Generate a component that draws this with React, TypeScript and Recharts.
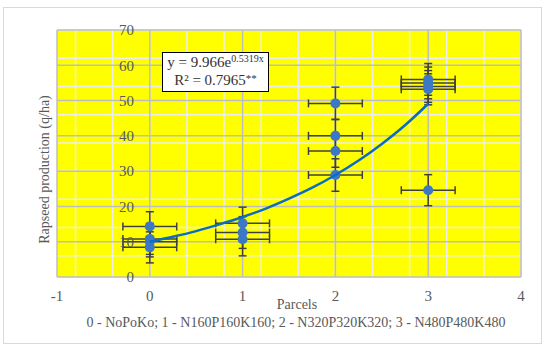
import React from 'react';
import { ScatterChart, Scatter, XAxis, YAxis, CartesianGrid, ErrorBar, Label } from 'recharts';

const xTicks = [-1, 0, 1, 2, 3, 4];
const yTicks = [0, 10, 20, 30, 40, 50, 60, 70];
const minorXValues = Array.from({ length: 26 }, (_, i) => Math.round((-1 + i * 0.2) * 10) / 10);
const minorYValues = Array.from({ length: 36 }, (_, i) => i * 2);

const parcels = [0, 0, 0, 0, 1, 1, 1, 2, 2, 2, 2, 3, 3, 3, 3, 3];
const yields = [14.3, 10.8, 10.0, 8.4, 15.2, 12.6, 10.7, 49.2, 40.0, 35.7, 28.9, 56.0, 55.0, 54.0, 53.2, 24.6];
const xErrors = [0.29, 0.29, 0.29, 0.29, 0.29, 0.29, 0.29, 0.29, 0.29, 0.29, 0.29, 0.29, 0.29, 0.29, 0.29, 0.29];
const yErrors = [4.2, 4.4, 4.3, 4.4, 4.6, 4.5, 4.7, 4.6, 4.7, 4.6, 4.6, 4.5, 4.5, 4.5, 4.4, 4.4];

const trendX = [0, 0.25, 0.5, 0.75, 1, 1.25, 1.5, 1.75, 2, 2.25, 2.5, 2.75, 3];
const trendY = [10.0, 11.4, 13.0, 14.9, 17.0, 19.4, 22.2, 25.3, 28.9, 33.0, 37.7, 43.0, 49.1];

const points = parcels.map((x, i) => ({ x, y: yields[i], ex: xErrors[i], ey: yErrors[i] }));
const trend = trendX.map((x, i) => ({ x, y: trendY[i] }));

const FONT = '"Liberation Serif", serif';
const TEXT = '#595959';

const NoShape = () => <g />;

export default function App() {
  return (
    <div style={{ position: 'absolute', left: 0, top: 0, width: 550, height: 352, background: '#fff' }}>
      <div
        style={{
          position: 'absolute',
          left: 3,
          top: 7,
          width: 539,
          height: 337,
          border: '1.5px solid #d9d9d9',
          boxSizing: 'border-box',
        }}
      />
      <div style={{ position: 'absolute', left: 0, top: 0 }}>
        <ScatterChart width={550} height={352} margin={{ top: 30, right: 29, bottom: 15, left: 27 }}>
          <CartesianGrid
            fill="#FFFF00"
            fillOpacity={1}
            stroke="#EDEDED"
            strokeWidth={1.5}
            horizontalValues={minorYValues}
            verticalValues={minorXValues}
          />
          <CartesianGrid
            fill="none"
            stroke="#BEBEBE"
            strokeWidth={1.5}
            horizontalValues={yTicks}
            verticalValues={xTicks}
          />
          <XAxis
            type="number"
            dataKey="x"
            domain={[-1, 4]}
            ticks={xTicks}
            axisLine={false}
            tickLine={false}
            tickMargin={7}
            height={60}
            tick={{ fill: TEXT, fontSize: 15, fontFamily: FONT }}
          >
            <Label value="Parcels" position="insideBottom" offset={28} dx={8} fill={TEXT} fontSize={14} fontFamily={FONT} />
            <Label
              value="0 - NoPoKo; 1 - N160P160K160; 2 - N320P320K320; 3 - N480P480K480"
              position="insideBottom"
              offset={10}
              dx={7}
              fill={TEXT}
              fontSize={14}
              fontFamily={FONT}
            />
          </XAxis>
          <YAxis
            type="number"
            dataKey="y"
            domain={[0, 70]}
            ticks={yTicks}
            axisLine={false}
            tickLine={false}
            tickMargin={-83}
            width={30}
            tick={{ fill: TEXT, fontSize: 15, fontFamily: FONT }}
          >
            <Label
              value="Rapseed production (q/ha)"
              angle={-90}
              position="center"
              dx={2}
              dy={16}
              fill={TEXT}
              fontSize={14}
              fontFamily={FONT}
            />
          </YAxis>
          <Scatter data={points} fill="#3B78C6" isAnimationActive={false} shape={(p: any) => <circle cx={p.cx} cy={p.cy} r={5} fill="#3B78C6" />}>
            <ErrorBar dataKey="ex" direction="x" stroke="#404040" strokeWidth={1.5} width={4} />
            <ErrorBar dataKey="ey" direction="y" stroke="#404040" strokeWidth={1.5} width={4} />
          </Scatter>
          <Scatter
            data={trend}
            isAnimationActive={false}
            line={{ stroke: '#0A6CC2', strokeWidth: 2.5 }}
            lineJointType="monotoneX"
            shape={NoShape}
          />
        </ScatterChart>
      </div>
      <div
        style={{
          position: 'absolute',
          left: 162,
          top: 52,
          width: 107,
          height: 40,
          border: '1.5px solid #000',
          background: '#fff',
          boxSizing: 'border-box',
          fontFamily: FONT,
          fontSize: 15,
          color: '#333',
          textAlign: 'center',
          lineHeight: '17px',
          paddingTop: 1,
        }}
      >
        <div style={{ whiteSpace: 'nowrap' }}>
          y = 9.966e<span style={{ fontSize: 10, position: 'relative', top: -5 }}>0.5319x</span>
        </div>
        <div style={{ whiteSpace: 'nowrap' }}>
          R² = 0.7965<span style={{ fontSize: 11, position: 'relative', top: -3 }}>**</span>
        </div>
      </div>
    </div>
  );
}
